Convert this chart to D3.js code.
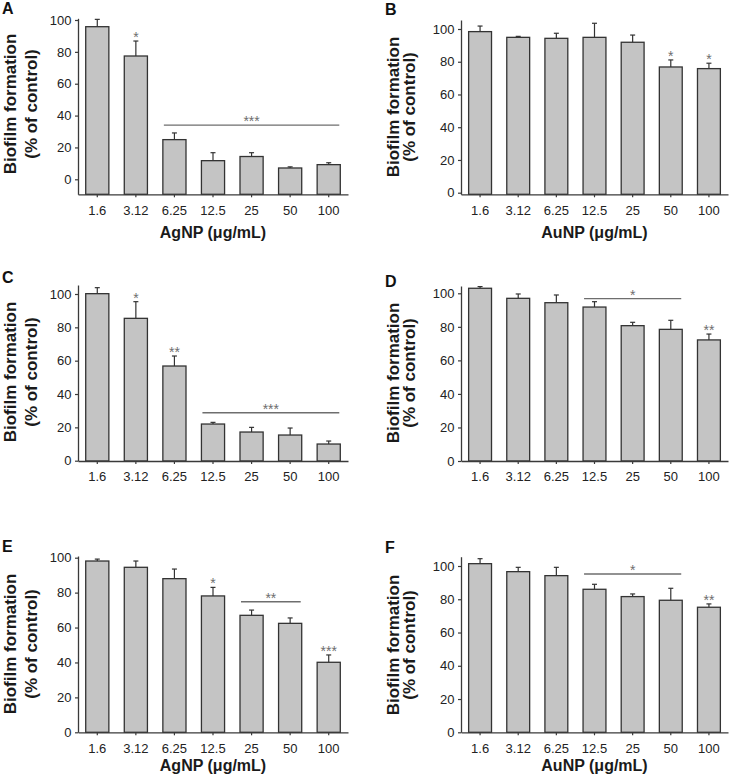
<!DOCTYPE html>
<html>
<head>
<meta charset="utf-8">
<script src="https://cdn.jsdelivr.net/npm/d3@7"></script>
<style>
  html, body { margin: 0; padding: 0; background: #fff; }
  svg { display: block; font-family: "Liberation Sans", Arial, sans-serif; }
</style>
</head>
<body>
<svg id="chart" width="729" height="781"></svg>
<script>
// ---------------- data ----------------
const categories = ["1.6", "3.12", "6.25", "12.5", "25", "50", "100"];
const yTickValues = [0, 20, 40, 60, 80, 100];

const meanA = [95.8, 77.4, 24.9, 11.7, 14.3, 7.1, 9.2];
const errA  = [4.6, 9.4, 4.2, 5.0, 2.4, 0.7, 1.2];
const meanB = [98.4, 94.9, 94.3, 94.9, 91.9, 76.8, 75.8];
const errB  = [3.4, 0.6, 3.1, 8.6, 4.4, 4.3, 3.3];
const meanC = [100.2, 85.4, 56.8, 22.0, 17.2, 15.4, 10.0];
const errC  = [3.6, 10.0, 6.0, 1.0, 2.8, 4.2, 1.8];
const meanD = [103.0, 97.0, 94.4, 91.8, 80.7, 78.5, 72.2];
const errD  = [1.0, 2.6, 4.6, 3.2, 2.0, 5.4, 3.5];
const meanE = [98.1, 94.5, 88.0, 78.1, 67.0, 62.4, 40.1];
const errE  = [1.1, 3.6, 5.5, 4.9, 3.0, 3.1, 4.2];
const meanF = [101.4, 96.6, 94.2, 86.0, 81.6, 79.4, 75.2];
const errF  = [3.0, 2.6, 5.0, 3.0, 1.6, 7.2, 2.0];

const sigBarsA = [{ cat: "3.12", label: "*" }];
const sigLinesA = [{ from: "6.25", to: "100", value: 34, label: "***" }];
const sigBarsB = [{ cat: "50", label: "*" }, { cat: "100", label: "*" }];
const sigLinesB = [];
const sigBarsC = [{ cat: "3.12", label: "*" }, { cat: "6.25", label: "**" }];
const sigLinesC = [{ from: "12.5", to: "100", value: 28.8, label: "***" }];
const sigBarsD = [{ cat: "100", label: "**" }];
const sigLinesD = [{ from: "12.5", to: "50", value: 96.8, label: "*" }];
const sigBarsE = [{ cat: "12.5", label: "*" }, { cat: "100", label: "***" }];
const sigLinesE = [{ from: "25", to: "50", value: 74.8, label: "**" }];
const sigBarsF = [{ cat: "100", label: "**" }];
const sigLinesF = [{ from: "12.5", to: "50", value: 95.2, label: "*" }];

const yTitle1 = "Biofilm formation";
const yTitle2 = "(% of control)";
const xTitleAg = "AgNP (\u03bcg/mL)";
const xTitleAu = "AuNP (\u03bcg/mL)";

// ---------------- layout ----------------
const panels = [
  { letter: "A", mean: meanA, err: errA, bars: sigBarsA, lines: sigLinesA, xTitle: xTitleAg,
    left: 78, right: 348, y0: 179.3, y100: 20, bottom: 194.3, top: 18.3, lx: 2, ly: 13.5, tcy: 104, titleY: 238, side: "L" },
  { letter: "B", mean: meanB, err: errB, bars: sigBarsB, lines: sigLinesB, xTitle: xTitleAu,
    left: 461, right: 728, y0: 192.7, y100: 29, bottom: 194.3, top: 20, lx: 385, ly: 14.5, tcy: 107, titleY: 238, side: "R" },
  { letter: "C", mean: meanC, err: errC, bars: sigBarsC, lines: sigLinesC, xTitle: null,
    left: 78, right: 348, y0: 460.7, y100: 294, bottom: 461, top: 285, lx: 2, ly: 283, tcy: 372, side: "L" },
  { letter: "D", mean: meanD, err: errD, bars: sigBarsD, lines: sigLinesD, xTitle: null,
    left: 461, right: 728, y0: 461, y100: 293.3, bottom: 461, top: 286, lx: 385, ly: 286.5, tcy: 373, side: "R" },
  { letter: "E", mean: meanE, err: errE, bars: sigBarsE, lines: sigLinesE, xTitle: xTitleAg,
    left: 78, right: 348, y0: 732.3, y100: 557.7, bottom: 732.3, top: 556, lx: 2, ly: 551.5, tcy: 644, titleY: 771, side: "L" },
  { letter: "F", mean: meanF, err: errF, bars: sigBarsF, lines: sigLinesF, xTitle: xTitleAu,
    left: 461, right: 728, y0: 732.3, y100: 566, bottom: 732.3, top: 556.7, lx: 385, ly: 553, tcy: 645, titleY: 771, side: "R" }
];

const svg = d3.select("#chart");
const axisColor = "#3a3a3a";
const barFill = "#c4c4c4";
const barStroke = "#333";
const sigColor = "#6e6e6e";

panels.forEach(p => {
  const g = svg.append("g");
  const lin = d3.scaleLinear().domain([0, 100]).range([p.y0, p.y100]);
  const y = d3.scaleLinear()
    .domain([lin.invert(p.bottom), lin.invert(p.top)])
    .range([p.bottom, p.top]);
  const x = d3.scaleBand().domain(categories).range([p.left, p.right])
    .paddingInner(0.4).paddingOuter(0.2);
  const bw = x.bandwidth();
  const rows = categories.map((c, i) => ({ c, m: p.mean[i], e: p.err[i] }));

  // error bars (upper only)
  const eg = g.append("g").attr("stroke", barStroke).attr("stroke-width", 1.2);
  eg.selectAll("line.v").data(rows).join("line")
    .attr("x1", d => x(d.c) + bw / 2).attr("x2", d => x(d.c) + bw / 2)
    .attr("y1", d => y(d.m)).attr("y2", d => y(d.m + d.e));
  eg.selectAll("line.cap").data(rows).join("line")
    .attr("x1", d => x(d.c) + bw / 2 - 2.5).attr("x2", d => x(d.c) + bw / 2 + 2.5)
    .attr("y1", d => y(d.m + d.e)).attr("y2", d => y(d.m + d.e));

  // bars
  g.append("g").selectAll("rect").data(rows).join("rect")
    .attr("x", d => x(d.c)).attr("width", bw)
    .attr("y", d => y(d.m)).attr("height", d => p.bottom - y(d.m))
    .attr("fill", barFill).attr("stroke", barStroke).attr("stroke-width", 1.3);

  // y axis
  const ya = g.append("g").attr("transform", `translate(${p.left},0)`)
    .call(d3.axisLeft(y).tickValues(yTickValues).tickSize(3).tickPadding(3.5).tickSizeOuter(0));
  ya.select(".domain").attr("stroke", axisColor).attr("stroke-width", 1.3);
  ya.selectAll(".tick line").attr("stroke", axisColor).attr("stroke-width", 1.2);
  ya.selectAll(".tick text").attr("font-size", 13).attr("fill", "#222")
    .attr("font-family", "Liberation Sans, Arial, sans-serif");

  // x axis
  const xa = g.append("g").attr("transform", `translate(0,${p.bottom})`)
    .call(d3.axisBottom(x).tickSize(3).tickPadding(8).tickSizeOuter(0));
  xa.select(".domain").attr("stroke", axisColor).attr("stroke-width", 1.3);
  xa.selectAll(".tick line").attr("stroke", axisColor).attr("stroke-width", 1.2);
  xa.selectAll(".tick text").attr("font-size", 13).attr("fill", "#222")
    .attr("font-family", "Liberation Sans, Arial, sans-serif");

  // significance on single bars
  g.append("g").selectAll("text").data(p.bars).join("text")
    .attr("x", d => x(d.cat) + bw / 2)
    .attr("y", d => { const i = categories.indexOf(d.cat); return y(p.mean[i] + p.err[i]) + 1; })
    .attr("text-anchor", "middle").attr("font-size", 14).attr("fill", sigColor)
    .text(d => d.label);

  // significance lines
  const sl = g.append("g").selectAll("g").data(p.lines).join("g");
  sl.append("line")
    .attr("x1", d => x(d.from) + 1).attr("x2", d => x(d.to) + bw - 1)
    .attr("y1", d => y(d.value)).attr("y2", d => y(d.value))
    .attr("stroke", sigColor).attr("stroke-width", 1.4);
  sl.append("text")
    .attr("x", d => (x(d.from) + x(d.to) + bw) / 2)
    .attr("y", d => y(d.value) + 1)
    .attr("text-anchor", "middle").attr("font-size", 14).attr("fill", sigColor)
    .text(d => d.label);

  // y title (two lines)
  const t1x = p.side === "L" ? p.left - 68 : p.left - 68;
  const t2x = p.side === "L" ? p.left - 47 : p.left - 51.5;
  [[yTitle1, t1x], [yTitle2, t2x]].forEach(([txt, cx]) => {
    g.append("text")
      .attr("transform", `translate(${cx},${p.tcy}) rotate(-90)`)
      .attr("text-anchor", "middle").attr("dominant-baseline", "central")
      .attr("font-size", 17).attr("font-weight", "bold").attr("fill", "#1a1a1a")
      .text(txt);
  });

  // x title
  if (p.xTitle) {
    g.append("text")
      .attr("x", (p.left + p.right) / 2).attr("y", p.titleY)
      .attr("text-anchor", "middle").attr("font-size", 16).attr("font-weight", "bold")
      .attr("fill", "#1a1a1a").text(p.xTitle);
  }

  // panel letter
  g.append("text").attr("x", p.lx).attr("y", p.ly)
    .attr("font-size", 16).attr("font-weight", "bold").attr("fill", "#111")
    .text(p.letter);
});
</script>
</body>
</html>
